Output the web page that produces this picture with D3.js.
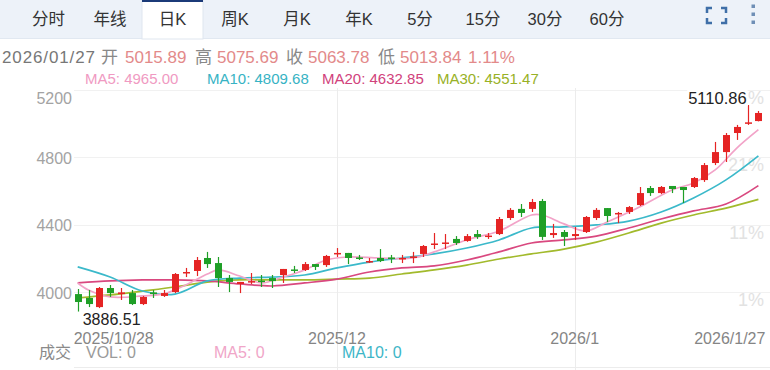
<!DOCTYPE html>
<html>
<head>
<meta charset="utf-8">
<script src="https://cdn.jsdelivr.net/npm/d3@7"></script>
<style>
  body { margin: 0; background: #fff; overflow: hidden; }
  svg { display: block; font-family: "Liberation Sans", Arial, "Noto Sans CJK SC", sans-serif; }
</style>
</head>
<body>
<div id="chart"></div>
<script>
// ---- data ----
const tabs = ["分时", "年线", "日K", "周K", "月K", "年K", "5分", "15分", "30分", "60分"];

const dates = [
  "2025/10/28", "2025/10/29", "2025/10/30", "2025/10/31",
  "2025/11/03", "2025/11/04", "2025/11/05", "2025/11/06", "2025/11/07",
  "2025/11/10", "2025/11/11", "2025/11/12", "2025/11/13", "2025/11/14",
  "2025/11/17", "2025/11/18", "2025/11/19", "2025/11/20", "2025/11/21",
  "2025/11/24", "2025/11/25", "2025/11/26", "2025/11/27", "2025/11/28",
  "2025/12/01", "2025/12/02", "2025/12/03", "2025/12/04", "2025/12/05",
  "2025/12/08", "2025/12/09", "2025/12/10", "2025/12/11", "2025/12/12",
  "2025/12/15", "2025/12/16", "2025/12/17", "2025/12/18", "2025/12/19",
  "2025/12/22", "2025/12/23", "2025/12/24", "2025/12/26",
  "2025/12/29", "2025/12/30", "2025/12/31",
  "2026/01/02", "2026/01/05", "2026/01/06", "2026/01/07", "2026/01/08", "2026/01/09",
  "2026/01/12", "2026/01/13", "2026/01/14", "2026/01/15", "2026/01/16",
  "2026/01/19", "2026/01/20", "2026/01/21", "2026/01/22", "2026/01/23",
  "2026/01/26", "2026/01/27"
];

const opens = [3990, 3967, 3913, 4026, 3990, 3996, 3931, 4000, 3979, 4002,
  4115, 4127, 4204, 4174, 4085, 4050, 4062, 4070, 4085, 4103,
  4136, 4133, 4168, 4162, 4228, 4234, 4207, 4180, 4204, 4207,
  4198, 4207, 4228, 4284, 4290, 4317, 4305, 4346, 4331, 4346,
  4441, 4495, 4495, 4542, 4340, 4358, 4334, 4358, 4441, 4500,
  4465, 4477, 4518, 4619, 4589, 4631, 4625, 4625, 4666, 4767,
  4832, 4945, 5002, 5015.89];
const highs = [4020, 4014, 4032, 4044, 4026, 4014, 3979, 4014, 4014, 4115,
  4145, 4210, 4240, 4210, 4103, 4062, 4115, 4103, 4103, 4139,
  4157, 4180, 4168, 4222, 4263, 4234, 4222, 4204, 4257, 4222,
  4222, 4240, 4281, 4352, 4346, 4334, 4346, 4370, 4352, 4447,
  4500, 4524, 4554, 4554, 4406, 4370, 4388, 4453, 4500, 4500,
  4477, 4512, 4625, 4631, 4631, 4631, 4625, 4684, 4767, 4892,
  4945, 4993, 5110.86, 5075.69];
const lows = [3886.51, 3913, 3907, 3973, 3955, 3925, 3925, 3967, 3973, 3996,
  4091, 4097, 4145, 4032, 4002, 3996, 4050, 4032, 4026, 4056,
  4115, 4127, 4133, 4151, 4210, 4168, 4192, 4174, 4180, 4174,
  4174, 4174, 4210, 4257, 4257, 4281, 4300, 4317, 4317, 4340,
  4429, 4447, 4477, 4311, 4323, 4275, 4311, 4352, 4429, 4417,
  4411, 4465, 4512, 4572, 4583, 4589, 4530, 4619, 4655, 4755,
  4773, 4904, 4993, 5013.84];
const closes = [3943, 3931, 4026, 3996, 4000, 3931, 3973, 3990, 3996, 4109,
  4121, 4192, 4168, 4085, 4062, 4062, 4067, 4065, 4067, 4139,
  4130, 4168, 4151, 4216, 4234, 4204, 4201, 4186, 4186, 4201,
  4204, 4213, 4275, 4290, 4296, 4293, 4334, 4329, 4337, 4435,
  4489, 4471, 4536, 4329, 4352, 4329, 4346, 4447, 4489, 4453,
  4471, 4506, 4589, 4589, 4625, 4613, 4607, 4678, 4755, 4832,
  4933, 4981, 5008.19, 5063.78];

const ma5Idx = [0, 1, 3, 6, 8, 10, 12, 13, 15, 17, 19, 21, 23, 25, 28, 31, 33, 36, 39, 42,
  43, 45, 47, 49, 52, 55, 57, 59, 61, 63];
const ma5 = [4056, 4014, 3973, 3979, 3991, 4044, 4109, 4133, 4097, 4056, 4091, 4133, 4192, 4210,
  4204, 4204, 4240, 4311, 4364, 4459, 4459, 4406, 4364, 4417, 4506, 4607, 4649, 4726, 4856, 4965];
const maIdx = [0, 3, 6, 9, 12, 15, 18, 21, 24, 27, 30, 33, 36, 39, 42, 45, 48, 51, 54, 57, 60, 63];
const ma10 = [4151, 4091, 4008, 3990, 4068, 4085, 4091, 4103, 4145, 4180, 4204, 4228, 4263, 4311,
  4382, 4388, 4400, 4423, 4477, 4560, 4667, 4809.68];
const ma20 = [4056, 4068, 4074, 4074, 4068, 4050, 4038, 4056, 4079, 4121, 4145, 4157, 4192, 4240,
  4293, 4311, 4334, 4382, 4435, 4483, 4524, 4632.85];
const ma30 = [3967, 3985, 4008, 4032, 4061, 4074, 4074, 4074, 4079, 4085, 4109, 4133, 4162, 4198,
  4228, 4257, 4298, 4352, 4411, 4459, 4500, 4551.47];

const yTicks = [4000, 4400, 4800, 5200];
const pctTicks = ["1%", "11%", "21%", "31%"];
const xTickDates = ["2025/10/28", "2025/12/01", "2026/01/02", "2026/01/27"];
const xTickLabels = ["2025/10/28", "2025/12", "2026/1", "2026/1/27"];
const changePct = "1.11%";

const maSeries = [
  { name: "MA5", idx: ma5Idx, values: ma5, color: "#f2a3c8", text: "#f09ac2" },
  { name: "MA10", idx: maIdx, values: ma10, color: "#3bb9ca", text: "#37b3c4" },
  { name: "MA20", idx: maIdx, values: ma20, color: "#d9487f", text: "#d1427c" },
  { name: "MA30", idx: maIdx, values: ma30, color: "#a2ba2c", text: "#98b126" }
];

// ---- chart ----
const W = 770, H = 370;
const upColor = "#e52424", downColor = "#1f9f27";

const svg = d3.select("#chart").append("svg")
  .attr("width", W)
  .attr("height", H);

// tab bar
const bar = svg.append("g").attr("class", "tabs");
bar.append("rect").attr("width", W).attr("height", 38).attr("fill", "#edf2f9");
bar.append("line").attr("x1", 0).attr("x2", W).attr("y1", 38.5).attr("y2", 38.5)
  .attr("stroke", "#e1e8f1");
const tabX = [48.5, 110, 172.5, 235, 297, 359, 420, 483, 545, 607];
bar.append("rect").attr("x", 142).attr("y", 0).attr("width", 61).attr("height", 39)
  .attr("fill", "#fff").attr("stroke", "#dfe6ef");
bar.append("rect").attr("x", 142).attr("y", 0).attr("width", 61).attr("height", 2)
  .attr("fill", "#1b3a78");
bar.selectAll("text.tab")
  .data(tabs)
  .join("text")
  .attr("class", "tab")
  .attr("x", (d, i) => tabX[i])
  .attr("y", 25)
  .attr("text-anchor", "middle")
  .attr("font-size", 16.5)
  .attr("fill", "#333")
  .text((d) => d);

// fullscreen icon + menu dots
const icon = bar.append("g").attr("fill", "none").attr("stroke", "#3f6fa8").attr("stroke-width", 2.5);
icon.append("path").attr("d", "M707,13 V8 H712 M721,8 H726 V13 M726,18 V23 H721 M712,23 H707 V18");
bar.selectAll("rect.dot")
  .data([6, 14, 22])
  .join("rect")
  .attr("class", "dot")
  .attr("x", 751.5).attr("y", (d) => d - 1.5)
  .attr("width", 3.5).attr("height", 3.5)
  .attr("fill", "#6f8fb6");

// info line
const last = dates.length - 1;
const fmt = d3.format(".2f");
const info = [
  { t: dates[last], x: 2, c: "#777" },
  { t: "开", x: 101, c: "#888" },
  { t: fmt(opens[last]), x: 125, c: "#e38a8a" },
  { t: "高", x: 195, c: "#888" },
  { t: fmt(highs[last]), x: 217, c: "#e38a8a" },
  { t: "收", x: 286, c: "#888" },
  { t: fmt(closes[last]), x: 308, c: "#e38a8a" },
  { t: "低", x: 378, c: "#888" },
  { t: fmt(lows[last]), x: 400, c: "#e38a8a" },
  { t: changePct, x: 468, c: "#e38a8a" }
];
svg.append("g").selectAll("text")
  .data(info)
  .join("text")
  .attr("x", (d) => d.x)
  .attr("y", 63)
  .attr("font-size", 17)
  .attr("fill", (d) => d.c)
  .attr("textLength", (d, i) => (i === 0 ? 93 : null))
  .text((d) => d.t);

// MA legend
const legX = [85, 207, 322, 437];
svg.append("g").selectAll("text")
  .data(maSeries)
  .join("text")
  .attr("x", (d, i) => legX[i])
  .attr("y", 84)
  .attr("font-size", 15)
  .attr("fill", (d) => d.text)
  .text((d) => `${d.name}: ${fmt(d.values[d.values.length - 1])}`);

// scales
const x = d3.scalePoint().domain(dates).range([77.7, 758.4]);
const y = d3.scaleLinear().domain([4000, 5200]).range([292.4, 90]);

// grid
const grid = svg.append("g").attr("class", "grid");
grid.selectAll("line.h")
  .data(yTicks)
  .join("line")
  .attr("class", "h")
  .attr("x1", 74).attr("x2", W)
  .attr("y1", (d) => Math.round(y(d)) + 0.5)
  .attr("y2", (d) => Math.round(y(d)) + 0.5)
  .attr("stroke", "#f1f1f1");
grid.selectAll("line.v")
  .data(xTickDates.slice(1, 3))
  .join("line")
  .attr("class", "v")
  .attr("x1", (d) => Math.round(x(d)) + 0.5)
  .attr("x2", (d) => Math.round(x(d)) + 0.5)
  .attr("y1", 88).attr("y2", H)
  .attr("stroke", "#ececec");
grid.append("line")
  .attr("x1", 74).attr("x2", W).attr("y1", 367.5).attr("y2", 367.5)
  .attr("stroke", "#ececec");

// right percentage scale (faded)
svg.append("g").selectAll("text")
  .data(yTicks)
  .join("text")
  .attr("x", 764)
  .attr("y", (d) => y(d) + 14)
  .attr("text-anchor", "end")
  .attr("font-size", 18)
  .attr("fill", "#e2e2e2")
  .text((d, i) => pctTicks[i]);

// left y axis
const yAxis = svg.append("g")
  .attr("transform", "translate(73,0)")
  .call(d3.axisLeft(y).tickValues(yTicks).tickSize(0).tickPadding(1).tickFormat(d3.format("d")));
yAxis.select(".domain").remove();
yAxis.selectAll("text")
  .attr("font-size", 16)
  .attr("font-family", null)
  .attr("fill", "#a3a3a3")
  .attr("dy", (d) => (d === 5200 ? "0.85em" : "0.35em"));

// x labels
svg.append("g").selectAll("text")
  .data(xTickDates)
  .join("text")
  .attr("x", (d, i) => x(d) + (i === 0 ? -4 : i === xTickDates.length - 1 ? 7 : 0))
  .attr("y", 344)
  .attr("text-anchor", (d, i) => (i === 0 ? "start" : i === xTickDates.length - 1 ? "end" : "middle"))
  .attr("font-size", 16)
  .attr("fill", "#858585")
  .text((d, i) => xTickLabels[i]);

// moving average lines
const plot = svg.append("g");
plot.selectAll("path.ma")
  .data(maSeries.slice().reverse())
  .join("path")
  .attr("class", "ma")
  .attr("fill", "none")
  .attr("stroke", (d) => d.color)
  .attr("stroke-width", 1.7)
  .attr("d", (s) =>
    d3.line()
      .x((v, i) => x(dates[s.idx[i]]))
      .y((v) => y(v))
      .curve(d3.curveCatmullRom.alpha(0.5))(s.values)
  );

// candles
const candles = dates.map((d, i) => ({
  date: d, open: opens[i], high: highs[i], low: lows[i], close: closes[i]
}));
const cg = plot.selectAll("g.candle")
  .data(candles)
  .join("g")
  .attr("class", "candle")
  .attr("fill", (d) => (d.close >= d.open ? upColor : downColor))
  .attr("stroke", (d) => (d.close >= d.open ? upColor : downColor));
cg.append("line")
  .attr("x1", (d) => Math.round(x(d.date)) + 0.5)
  .attr("x2", (d) => Math.round(x(d.date)) + 0.5)
  .attr("y1", (d) => y(d.high))
  .attr("y2", (d) => y(d.low))
  .attr("stroke-width", 1.2);
cg.append("rect")
  .attr("x", (d) => Math.round(x(d.date)) - 3)
  .attr("y", (d) => y(Math.max(d.open, d.close)))
  .attr("width", 7)
  .attr("height", (d) => Math.max(1.5, Math.abs(y(d.open) - y(d.close))))
  .attr("stroke", "none");

// high / low annotations (high label sits on a white plate, as in the app)
const iHigh = d3.maxIndex(highs), iLow = d3.minIndex(lows);
const hiLabel = svg.append("g");
const hiText = hiLabel.append("text")
  .attr("x", x(dates[iHigh]) - 1)
  .attr("y", y(highs[iHigh]) - 1)
  .attr("text-anchor", "end")
  .attr("font-size", 16.5)
  .attr("fill", "#222")
  .text(fmt(highs[iHigh]));
const bb = hiText.node().getBBox();
hiLabel.insert("rect", "text")
  .attr("x", bb.x - 1).attr("y", bb.y + 1)
  .attr("width", bb.width + 2).attr("height", bb.height - 2)
  .attr("fill", "#fff");
svg.append("text")
  .attr("x", x(dates[iLow]) + 5)
  .attr("y", y(lows[iLow]) + 13.5)
  .attr("font-size", 16)
  .attr("fill", "#222")
  .text(fmt(lows[iLow]));

// volume legend
const vol = [
  { t: "成交", x: 39, c: "#8a8a8a" },
  { t: "VOL: 0", x: 86, c: "#9a9a9a" },
  { t: "MA5: 0", x: 214, c: "#f0a6c8" },
  { t: "MA10: 0", x: 342, c: "#3db6c7" }
];
svg.append("g").selectAll("text")
  .data(vol)
  .join("text")
  .attr("x", (d) => d.x)
  .attr("y", 358)
  .attr("font-size", 16)
  .attr("fill", (d) => d.c)
  .text((d) => d.t);
</script>
</body>
</html>
